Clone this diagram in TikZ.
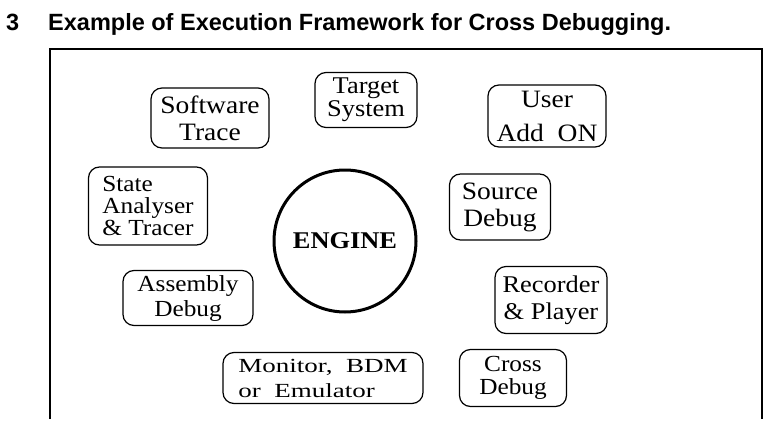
\documentclass[tikz,border=0pt]{standalone}
\usepackage{fontspec}
\setmainfont{Liberation Serif}
\newfontfamily\headfont{Liberation Sans}
\newfontfamily\wideserif[FakeStretch=1.1]{Liberation Serif}
\newfontfamily\widerserif[FakeStretch=1.35]{Liberation Serif}
\usetikzlibrary{positioning}

\begin{document}
\begin{tikzpicture}[x=1pt, y=-1pt,
  hd/.style={font=\headfont\bfseries\fontsize{23.5}{28}\selectfont, inner sep=0pt, anchor=base west},
  frameline/.style={draw=black, line width=1.3pt},
  part/.style={draw=black, line width=1.2pt, rounded corners=11pt, inner sep=0pt, align=center},
  engine/.style={circle, draw=black, line width=3pt, minimum size=142pt, inner sep=0pt,
    font=\wideserif\bfseries\fontsize{24}{26}\selectfont}
]
\useasboundingbox (0,0) rectangle (768,428);

% heading
\node[hd] (num) at (6,31) {3};
\node[hd] (title) at (48,31) {Example of Execution Framework for Cross Debugging.};

% frame, open at the bottom
\coordinate (fbl) at (50,419);
\coordinate (ftl) at (50,49);
\coordinate (ftr) at (762,49);
\coordinate (fbr) at (762,419);
\draw[frameline] (fbl) -- (ftl) -- (ftr) -- (fbr);

% the engine in the middle
\node[engine] (eng) at (345,241) {ENGINE};

% parts round the engine
\node[part, minimum width=118pt, minimum height=60pt,
  font=\wideserif\fontsize{25}{27}\selectfont] (swtrace) at (210,118) {Software\\Trace};
\node[part, minimum width=102pt, minimum height=55pt,
  font=\wideserif\fontsize{24}{23}\selectfont] (target) at (366,100) {Target\\System};
\node[part, minimum width=118pt, minimum height=62pt,
  font=\wideserif\fontsize{25}{34}\selectfont] (useradd) at (547,116) {User\\Add\ \ ON};
\node[part, minimum width=119pt, minimum height=78pt, align=left,
  font=\wideserif\fontsize{23}{22}\selectfont] (state) at (148,206) {State\\Analyser\\\&\ Tracer};
\node[part, minimum width=101pt, minimum height=66pt,
  font=\wideserif\fontsize{25}{27}\selectfont] (srcdbg) at (500,207) {Source\\Debug};
\node[part, minimum width=130pt, minimum height=55pt,
  font=\wideserif\fontsize{23}{25}\selectfont] (asmdbg) at (188,298) {Assembly\\Debug};
\node[part, minimum width=112pt, minimum height=67pt,
  font=\wideserif\fontsize{24}{27}\selectfont] (recplay) at (551,300) {Recorder\\\&\ Player};
\node[part, minimum width=200pt, minimum height=51pt, align=left,
  font=\widerserif\fontsize{20}{25}\selectfont] (monitor) at (323,378) {Monitor,\ \ BDM\\or\ \ Emulator};
\node[part, minimum width=107pt, minimum height=57pt,
  font=\wideserif\fontsize{23}{23}\selectfont] (xdbg) at (513,378) {Cross\\Debug};

\end{tikzpicture}
\end{document}
